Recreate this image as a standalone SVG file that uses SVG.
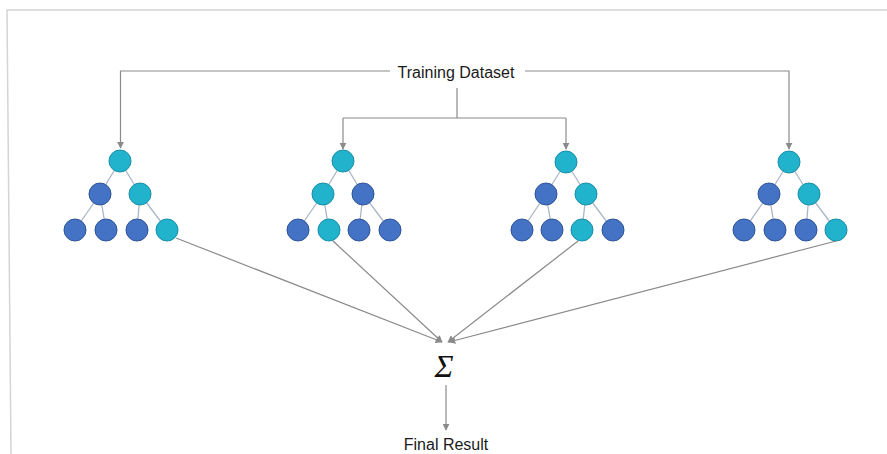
<svg xmlns="http://www.w3.org/2000/svg" width="887" height="454" viewBox="0 0 887 454">
<style>
.frame{fill:none;stroke:#d4d4d4;stroke-width:1.5}
.con{fill:none;stroke:#8a8a8a;stroke-width:1.2}
.edge{stroke:#a9b6c8;stroke-width:1.3}
.c{fill:#21b2cc;stroke:#1a8fa8;stroke-width:1}
.d{fill:#4472c4;stroke:#2f5597;stroke-width:1}
.lbl{font-family:"Liberation Sans",Arial,sans-serif;font-size:16px;fill:#1a1a1a;text-anchor:middle}
.sig{font-family:"Liberation Serif","Times New Roman",serif;font-style:italic;font-size:32px;fill:#111;text-anchor:middle}
</style>
<defs>
<marker id="ah" viewBox="0 0 10 10" refX="9" refY="5" markerWidth="7" markerHeight="7" markerUnits="userSpaceOnUse" orient="auto">
<path d="M0,0 L10,5 L0,10 z" fill="#8a8a8a"/>
</marker>
</defs>
<rect x="0" y="0" width="887" height="454" fill="#fff"/>
<path class="frame" d="M887,10 L7,10 L11,454"/>
<g id="connectors">
<path class="con" d="M390,71 H120.5 V148" marker-end="url(#ah)"/>
<path class="con" d="M525,71 H789 V149" marker-end="url(#ah)"/>
<path class="con" d="M457,88 V118 M343,118 H566"/>
<path class="con" d="M343,118 V149" marker-end="url(#ah)"/>
<path class="con" d="M566,118 V149" marker-end="url(#ah)"/>
<path class="con" d="M176,238 L442,342" marker-end="url(#ah)"/>
<path class="con" d="M333,241 L442,342" marker-end="url(#ah)"/>
<path class="con" d="M578,241 L448,342" marker-end="url(#ah)"/>
<path class="con" d="M836,241 L449,342" marker-end="url(#ah)"/>
<path class="con" d="M446,385 V430" marker-end="url(#ah)"/>
</g>
<g id="tree1">
<line class="edge" x1="120" y1="161" x2="100" y2="194"/><line class="edge" x1="120" y1="161" x2="140" y2="194"/>
<line class="edge" x1="100" y1="194" x2="75" y2="230"/><line class="edge" x1="100" y1="194" x2="106" y2="230"/>
<line class="edge" x1="140" y1="194" x2="137" y2="230"/><line class="edge" x1="140" y1="194" x2="167" y2="230"/>
<circle class="c" cx="120" cy="161" r="11"/>
<circle class="d" cx="100" cy="194" r="11"/><circle class="c" cx="140" cy="194" r="11"/>
<circle class="d" cx="75" cy="230" r="11"/><circle class="d" cx="106" cy="230" r="11"/><circle class="d" cx="137" cy="230" r="11"/><circle class="c" cx="167" cy="230" r="11"/>
</g>
<g id="tree2">
<line class="edge" x1="343" y1="161" x2="323" y2="194"/><line class="edge" x1="343" y1="161" x2="363" y2="194"/>
<line class="edge" x1="323" y1="194" x2="298" y2="230"/><line class="edge" x1="323" y1="194" x2="329" y2="230"/>
<line class="edge" x1="363" y1="194" x2="359" y2="230"/><line class="edge" x1="363" y1="194" x2="390" y2="230"/>
<circle class="c" cx="343" cy="161" r="11"/>
<circle class="c" cx="323" cy="194" r="11"/><circle class="d" cx="363" cy="194" r="11"/>
<circle class="d" cx="298" cy="230" r="11"/><circle class="c" cx="329" cy="230" r="11"/><circle class="d" cx="359" cy="230" r="11"/><circle class="d" cx="390" cy="230" r="11"/>
</g>
<g id="tree3">
<line class="edge" x1="566" y1="162" x2="546" y2="194"/><line class="edge" x1="566" y1="162" x2="586" y2="194"/>
<line class="edge" x1="546" y1="194" x2="522" y2="230"/><line class="edge" x1="546" y1="194" x2="552" y2="230"/>
<line class="edge" x1="586" y1="194" x2="582" y2="230"/><line class="edge" x1="586" y1="194" x2="613" y2="230"/>
<circle class="c" cx="566" cy="162" r="11"/>
<circle class="d" cx="546" cy="194" r="11"/><circle class="c" cx="586" cy="194" r="11"/>
<circle class="d" cx="522" cy="230" r="11"/><circle class="d" cx="552" cy="230" r="11"/><circle class="c" cx="582" cy="230" r="11"/><circle class="d" cx="613" cy="230" r="11"/>
</g>
<g id="tree4">
<line class="edge" x1="789" y1="162" x2="769" y2="194"/><line class="edge" x1="789" y1="162" x2="809" y2="194"/>
<line class="edge" x1="769" y1="194" x2="744" y2="230"/><line class="edge" x1="769" y1="194" x2="775" y2="230"/>
<line class="edge" x1="809" y1="194" x2="806" y2="230"/><line class="edge" x1="809" y1="194" x2="836" y2="230"/>
<circle class="c" cx="789" cy="162" r="11"/>
<circle class="d" cx="769" cy="194" r="11"/><circle class="c" cx="809" cy="194" r="11"/>
<circle class="d" cx="744" cy="230" r="11"/><circle class="d" cx="775" cy="230" r="11"/><circle class="d" cx="806" cy="230" r="11"/><circle class="c" cx="836" cy="230" r="11"/>
</g>
<g id="training-dataset"><text class="lbl" x="456" y="78">Training Dataset</text></g>
<g id="sigma"><text class="sig" x="444" y="377">Σ</text></g>
<g id="final-result"><text class="lbl" x="446" y="450">Final Result</text></g>
</svg>
